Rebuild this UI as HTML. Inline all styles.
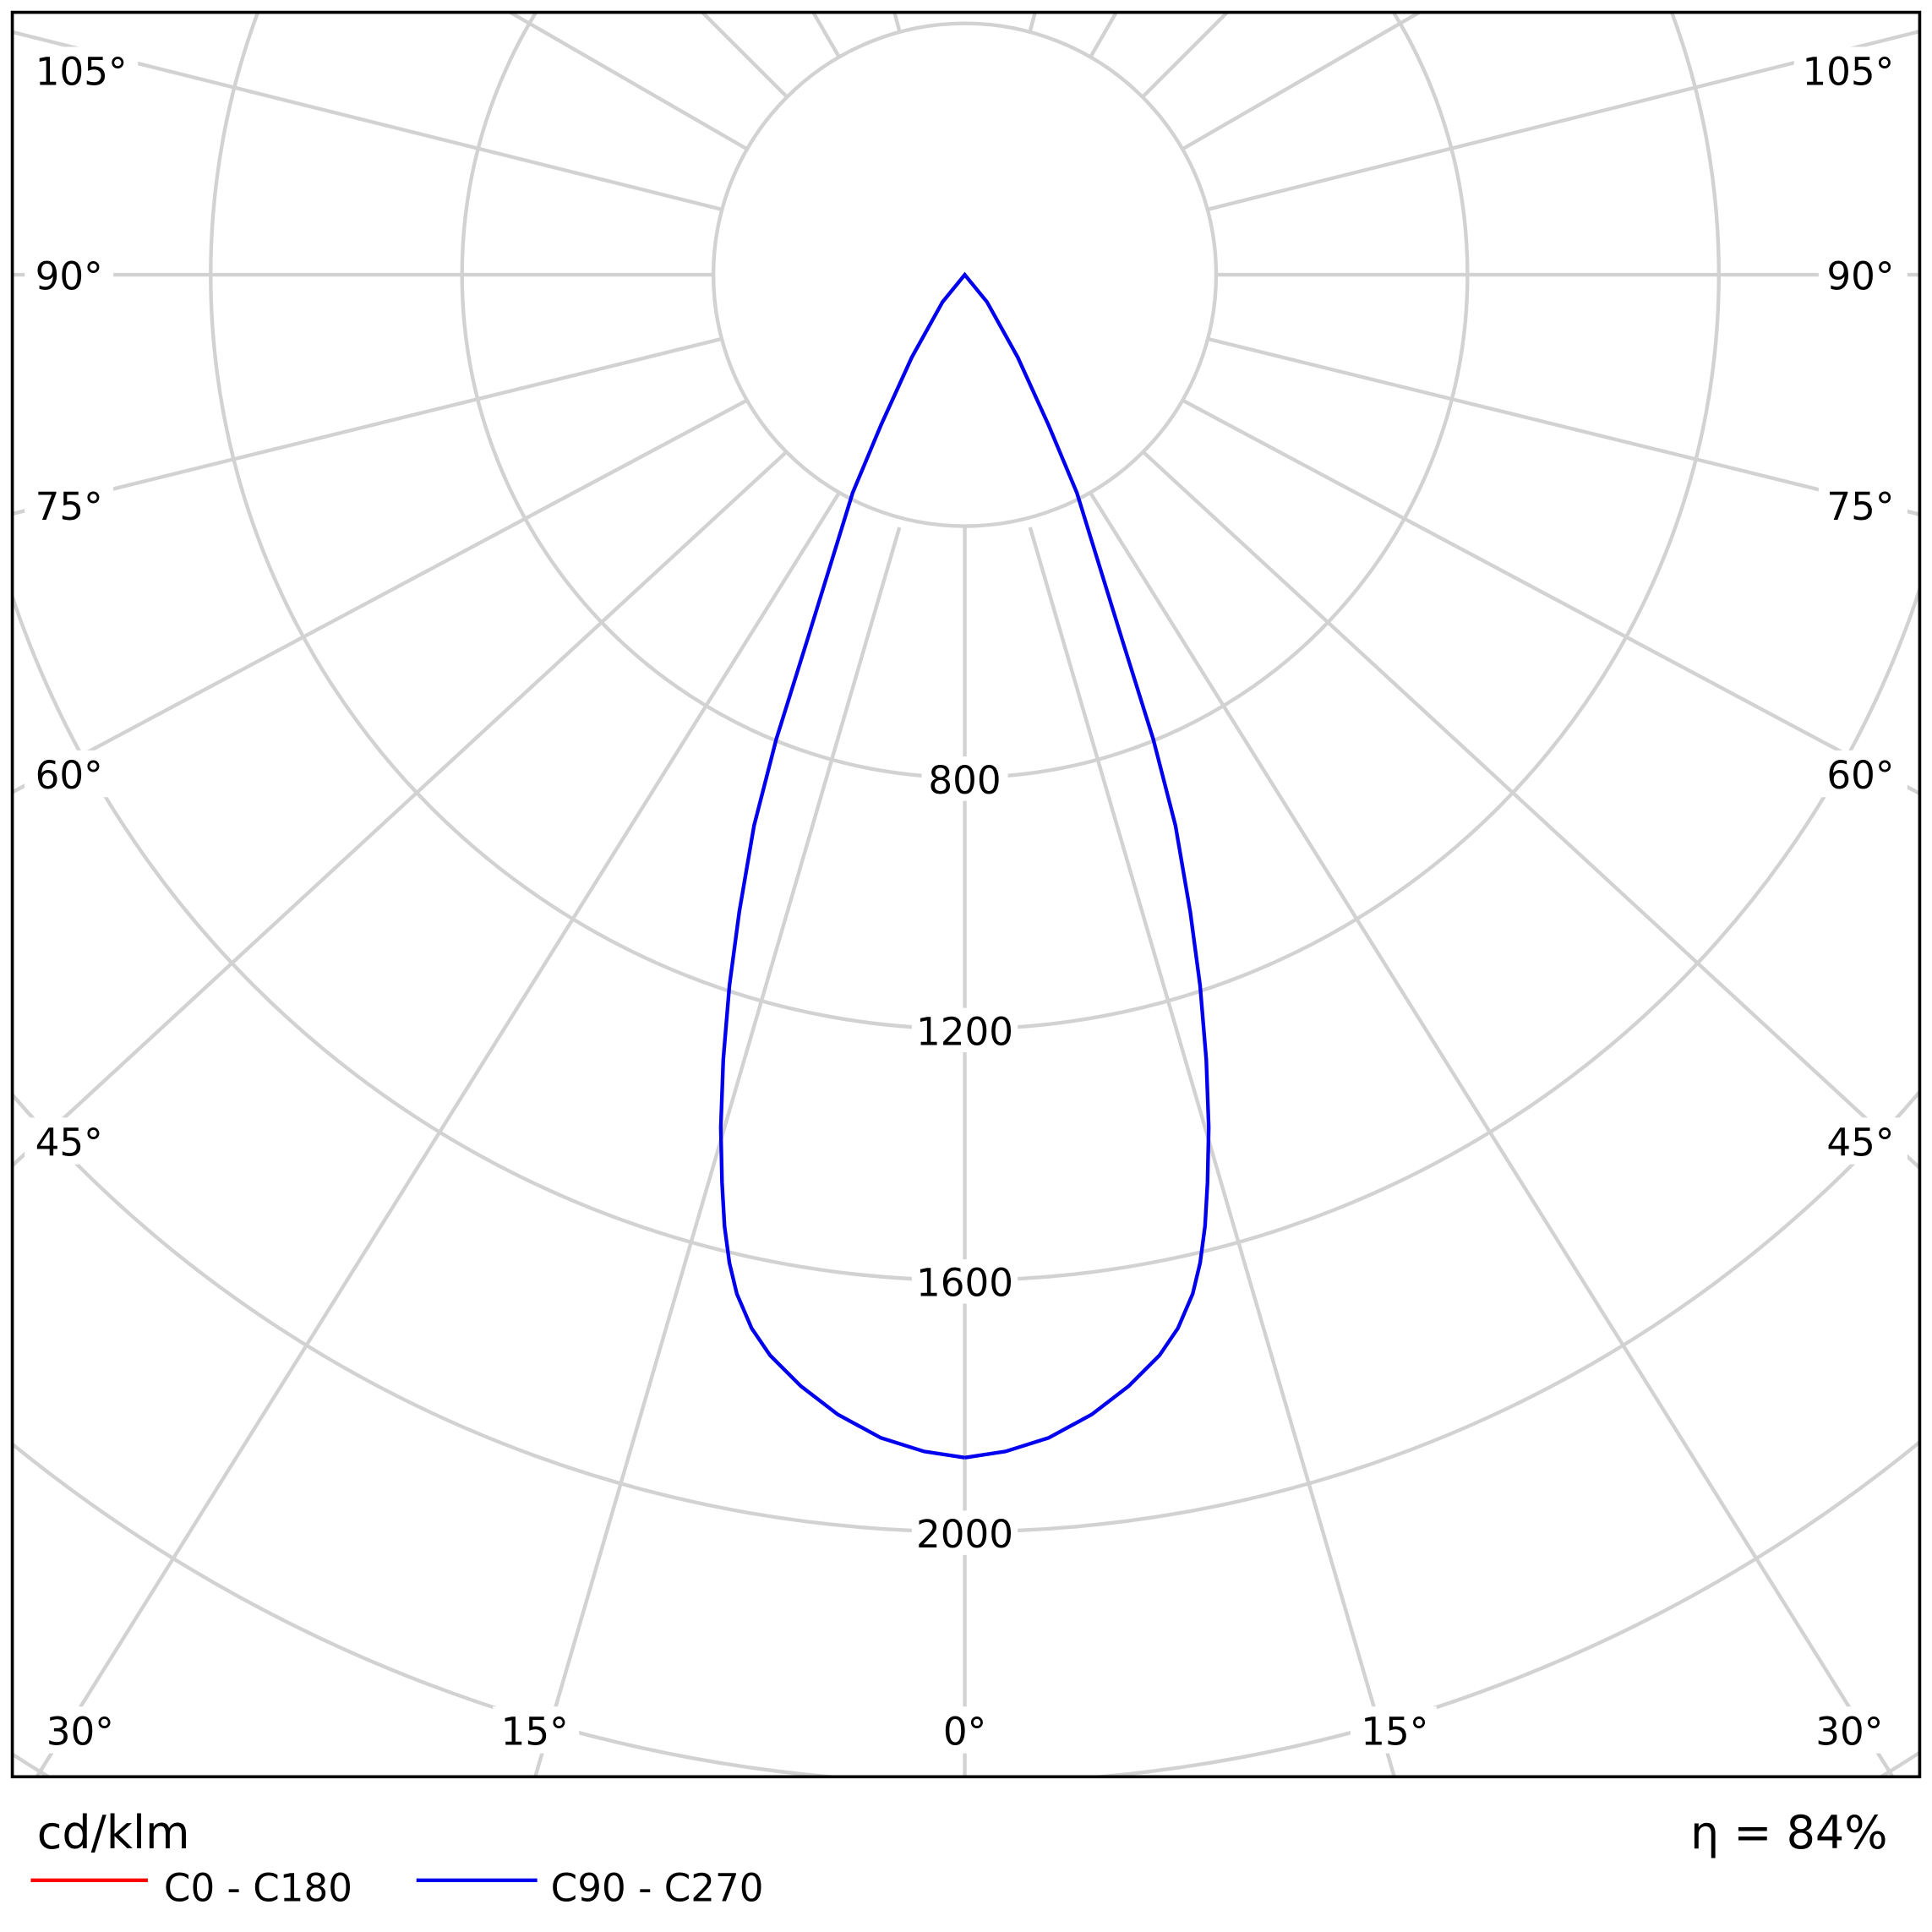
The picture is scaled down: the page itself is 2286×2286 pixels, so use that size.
<!DOCTYPE html>
<html><head><style>html,body{margin:0;padding:0;background:#fff;overflow:hidden;width:2286px;height:2286px}svg{display:block}</style></head><body>
<svg width="2286" height="2286" viewBox="0 0 1568 1568" xmlns="http://www.w3.org/2000/svg" font-family="'DejaVu Sans','Liberation Sans',sans-serif">
<defs><clipPath id="c"><rect x="10" y="10" width="1548" height="1432"/></clipPath></defs>
<rect width="1568" height="1568" fill="#fff"/>
<g clip-path="url(#c)" stroke="#d2d2d2" stroke-width="3" fill="none">
<circle cx="783" cy="223" r="204"/>
<circle cx="783" cy="223" r="408"/>
<circle cx="783" cy="223" r="612"/>
<circle cx="783" cy="223" r="816"/>
<circle cx="783" cy="223" r="1020"/>
<circle cx="783" cy="223" r="1224"/>
<circle cx="783" cy="223" r="1428"/>
<line x1="783" y1="427" x2="783" y2="2423"/>
<line x1="730" y1="428" x2="287.5" y2="1946"/>
<line x1="681" y1="400" x2="-238.5" y2="1871.5"/>
<line x1="638" y1="367" x2="-304" y2="1235.5"/>
<line x1="606" y1="325" x2="-288" y2="802"/>
<line x1="586" y1="275" x2="-278" y2="488"/>
<line x1="579" y1="223" x2="-1417" y2="223"/>
<line x1="586" y1="170" x2="-278" y2="-46"/>
<line x1="606.3" y1="121" x2="-1122.3" y2="-877"/>
<line x1="638.8" y1="78.8" x2="-772.6" y2="-1332.6"/>
<line x1="681" y1="46.3" x2="-317" y2="-1682.3"/>
<line x1="730.2" y1="26" x2="213.6" y2="-1902"/>
<line x1="836" y1="428" x2="1278.5" y2="1946"/>
<line x1="885" y1="400" x2="1804.5" y2="1871.5"/>
<line x1="928" y1="367" x2="1870" y2="1235.5"/>
<line x1="960" y1="325" x2="1854" y2="802"/>
<line x1="980" y1="275" x2="1844" y2="488"/>
<line x1="987" y1="223" x2="2983" y2="223"/>
<line x1="980" y1="170" x2="1844" y2="-46"/>
<line x1="959.7" y1="121" x2="2688.3" y2="-877"/>
<line x1="927.2" y1="78.8" x2="2338.6" y2="-1332.6"/>
<line x1="885" y1="46.3" x2="1883" y2="-1682.3"/>
<line x1="835.8" y1="26" x2="1352.4" y2="-1902"/>
</g>
<g font-size="31" fill="#000" text-anchor="middle">
<g fill="#fff"><rect x="748" y="614" width="70" height="36"/><rect x="740" y="818" width="86" height="36"/><rect x="740" y="1022" width="86" height="36"/><rect x="740" y="1226" width="86" height="36"/>
<rect x="20" y="38" width="92" height="38"/><rect x="20" y="204" width="72" height="38"/><rect x="20" y="391" width="72" height="38"/><rect x="20" y="609" width="72" height="38"/><rect x="20" y="907" width="72" height="38"/><rect x="30" y="1385" width="70" height="38"/><rect x="400" y="1385" width="70" height="38"/><rect x="760" y="1385" width="48" height="38"/>
<rect x="1456" y="38" width="92" height="38"/><rect x="1476" y="204" width="72" height="38"/><rect x="1476" y="391" width="72" height="38"/><rect x="1476" y="609" width="72" height="38"/><rect x="1476" y="907" width="72" height="38"/><rect x="1466" y="1385" width="70" height="38"/><rect x="1096" y="1385" width="70" height="38"/></g>
<text x="783" y="644">800</text><text x="783" y="848">1200</text><text x="783" y="1052">1600</text><text x="783" y="1256">2000</text>
<text x="66" y="69">105°</text><text x="56" y="235">90°</text><text x="56" y="422">75°</text><text x="56" y="640">60°</text><text x="56" y="938">45°</text><text x="65" y="1416">30°</text><text x="434" y="1416">15°</text><text x="783" y="1416">0°</text>
<text x="1500" y="69">105°</text><text x="1510" y="235">90°</text><text x="1510" y="422">75°</text><text x="1510" y="640">60°</text><text x="1510" y="938">45°</text><text x="1501" y="1416">30°</text><text x="1132" y="1416">15°</text>
</g>
<polyline fill="none" stroke="#0000ee" stroke-width="3" points="783,1183 750,1178 715,1167 680,1148 650,1125 625,1100 610,1078 598,1050 592,1025 588,995 586,960 585,915 587,860 592,800 600,740 612,670 630,600 655,520 692,400 715,345 740,290 765,245 783,223 801,245 826,290 851,345 874,400 911,520 936,600 954,670 966,740 974,800 979,860 981,915 980,960 978,995 974,1025 968,1050 956,1078 941,1100 916,1125 886,1148 851,1167 816,1178 783,1183"/>
<rect x="10" y="10" width="1548" height="1432" fill="none" stroke="#000" stroke-width="2.5"/>
<text x="30" y="1500" font-size="37">cd/klm</text>
<text x="1532" y="1500" font-size="37" text-anchor="end">η = 84%</text>
<line x1="25" y1="1526" x2="120" y2="1526" stroke="#ff0000" stroke-width="3"/>
<text x="133" y="1543" font-size="31">C0 - C180</text>
<line x1="338" y1="1526" x2="436" y2="1526" stroke="#0000ee" stroke-width="3"/>
<text x="447" y="1543" font-size="31">C90 - C270</text>
</svg>
</body></html>
